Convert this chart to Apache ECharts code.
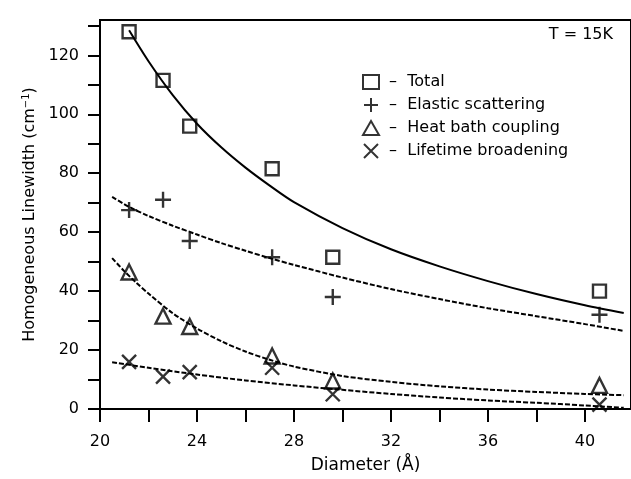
<!DOCTYPE html>
<html>
<head>
<meta charset="utf-8">
<script src="https://cdn.jsdelivr.net/npm/echarts@6/dist/echarts.min.js"></script>
<style>
  html, body { margin: 0; padding: 0; background: #fff; }
  #chart { width: 631px; height: 479px; }
</style>
</head>
<body>
<div id="chart"></div>
<script>
// Measured linewidth components at each nanocrystal diameter (Å)
const diameters = [21.2, 22.6, 23.7, 27.1, 29.6, 40.6];
const totalWidth = [128, 111.5, 96, 81.5, 51.5, 40];
const elasticWidth = [67.5, 71, 57, 51.5, 38, 32];
const heatBathWidth = [46.5, 31.5, 28, 18, 9.5, 8];
const lifetimeWidth = [16, 11, 12.5, 14, 5, 1.5];

// Fitted curves, sampled as [diameter, linewidth]
const totalFit = [[21.2, 128.5], [22, 118], [23, 106.5], [24, 96.8], [25, 88.8], [26, 81.9], [27, 75.8], [28, 70.2], [30, 61.4], [32, 54.2], [34, 48.4], [36, 43.4], [38, 39], [40, 35.2], [41.6, 32.6]];
const elasticFit = [[20.5, 72], [21.2, 68.6], [22, 65.5], [23, 62.2], [24, 59.2], [25, 56.3], [26, 53.7], [27, 51.2], [28, 48.9], [30, 44.6], [32, 40.7], [34, 37.3], [36, 34.2], [38, 31.5], [40, 28.8], [41.6, 26.5]];
const heatBathFit = [[20.5, 51.2], [21, 46.8], [21.5, 42.8], [22, 39.2], [23, 32.5], [24, 27.3], [25, 23], [26, 19.5], [27, 16.7], [28, 14.4], [30, 11.2], [32, 9.2], [34, 7.7], [36, 6.6], [38, 5.8], [40, 5.1], [41.6, 4.7]];
const lifetimeFit = [[20.5, 15.9], [22, 14], [24, 11.7], [26, 9.7], [28, 8], [30, 6.5], [32, 5.1], [34, 3.9], [36, 2.9], [38, 2.1], [40, 1.2], [41.6, 0.4]];

// Axis ticks and labels
const xTicks = [20, 22, 24, 26, 28, 30, 32, 34, 36, 38, 40];
const xLabels = [20, 24, 28, 32, 36, 40];
const yTicks = [0, 10, 20, 30, 40, 50, 60, 70, 80, 90, 100, 110, 120, 130];
const yLabels = [0, 20, 40, 60, 80, 100, 120];

const seriesNames = ['Total', 'Elastic scattering', 'Heat bath coupling', 'Lifetime broadening'];

const FONT = 'DejaVu Sans';
const INK = '#000';

const plusPath = 'path://M0,8H16M8,0V16';
const crossPath = 'path://M0,0L14,14M14,0L0,14';

function pairs(xs, ys) {
  return xs.map((x, i) => [x, ys[i]]);
}

const hollow = { color: 'rgba(255,255,255,0)', borderColor: INK, borderWidth: 2.4 };

function markerSeries(name, values, symbol, size) {
  return {
    name: name,
    type: 'scatter',
    data: pairs(diameters, values),
    symbol: symbol,
    symbolSize: size,
    itemStyle: hollow,
    z: 5
  };
}

function fitSeries(name, points, dashed) {
  return {
    name: name,
    type: 'line',
    data: points,
    smooth: 0.3,
    showSymbol: false,
    silent: true,
    lineStyle: { color: INK, width: 2, type: dashed ? [5, 2] : 'solid' },
    z: 3
  };
}

const chart = echarts.init(document.getElementById('chart'), null, { renderer: 'canvas' });

chart.setOption({
  animation: false,
  backgroundColor: '#fff',
  title: {
    text: 'T = 15K',
    right: 13,
    top: 22,
    textStyle: { fontFamily: FONT, fontSize: 16, fontWeight: 'normal', color: INK }
  },
  legend: {
    data: seriesNames,
    orient: 'vertical',
    left: 357,
    top: 69,
    itemWidth: 16,
    itemHeight: 14,
    itemGap: 7,
    formatter: name => ' –  ' + name,
    textStyle: { fontFamily: FONT, fontSize: 16, color: INK },
    selectedMode: false
  },
  grid: {
    left: 100,
    top: 20,
    bottom: 69,
    right: 0,
    show: true,
    borderColor: INK,
    borderWidth: 2,
    backgroundColor: 'transparent'
  },
  xAxis: {
    type: 'value',
    min: 20,
    max: 41.9,
    name: 'Diameter (Å)',
    nameLocation: 'middle',
    nameGap: 48,
    nameTextStyle: { fontFamily: FONT, fontSize: 17, color: INK },
    splitLine: { show: false },
    axisLine: { lineStyle: { color: INK, width: 2 } },
    axisTick: { length: 13, lineStyle: { color: INK, width: 2 }, customValues: xTicks },
    axisLabel: { fontFamily: FONT, fontSize: 16, color: INK, margin: 25, customValues: xLabels }
  },
  yAxis: {
    type: 'value',
    min: 0,
    max: 132,
    name: '{n|Homogeneous Linewidth (cm}{s|−1}{n|)}',
    nameLocation: 'middle',
    nameGap: 61,
    nameTextStyle: {
      rich: {
        n: { fontFamily: FONT, fontSize: 16, color: INK },
        s: { fontFamily: FONT, fontSize: 10, color: INK, verticalAlign: 'top' }
      }
    },
    splitLine: { show: false },
    axisLine: { lineStyle: { color: INK, width: 2 } },
    axisTick: { length: 12, lineStyle: { color: INK, width: 2 }, customValues: yTicks },
    axisLabel: { fontFamily: FONT, fontSize: 16, color: INK, margin: 21, customValues: yLabels }
  },
  series: [
    fitSeries('Total fit', totalFit, false),
    fitSeries('Elastic fit', elasticFit, true),
    fitSeries('Heat bath fit', heatBathFit, true),
    fitSeries('Lifetime fit', lifetimeFit, true),
    markerSeries(seriesNames[0], totalWidth, 'rect', 13),
    markerSeries(seriesNames[1], elasticWidth, plusPath, 16),
    markerSeries(seriesNames[2], heatBathWidth, 'triangle', 15),
    markerSeries(seriesNames[3], lifetimeWidth, crossPath, 14)
  ]
});
</script>
</body>
</html>
